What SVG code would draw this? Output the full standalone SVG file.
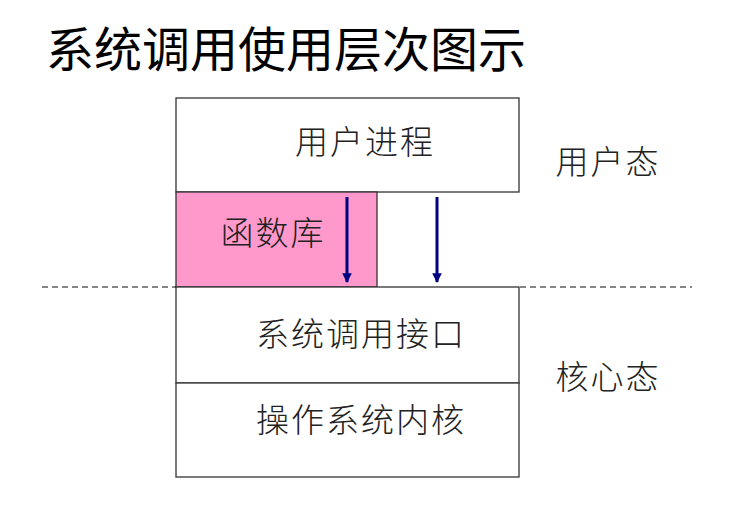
<svg xmlns="http://www.w3.org/2000/svg" width="755" height="516" viewBox="0 0 755 516">
<defs>
<style>
.box{fill:#fff;stroke:#333;stroke-width:1.3}
.lib{fill:#ff99cc;stroke:#333;stroke-width:1.3}
.lbl{font-family:"Noto Sans CJK SC","Noto Sans",sans-serif;font-size:33px;letter-spacing:2px;fill:#222;font-weight:300;text-anchor:middle}
.title{font-family:"Noto Sans CJK SC","Noto Sans",sans-serif;font-size:48px;fill:#000}
.dash{stroke:#111;stroke-width:1.2;stroke-dasharray:6 4;fill:none}
.arr{stroke:#000080;stroke-width:3;fill:none;marker-end:url(#ah)}
</style>
<marker id="ah" viewBox="0 0 10 10" refX="9" refY="5" markerWidth="3.2" markerHeight="3.2" orient="auto" markerUnits="strokeWidth">
<path d="M0,0 L10,5 L0,10 z" fill="#000080"/>
</marker>
</defs>
<rect width="755" height="516" fill="#fff"/>
<text class="title" x="46" y="67">系统调用使用层次图示</text>
<g id="user-process">
<rect class="box" x="176" y="98" width="343" height="94"/>
<text class="lbl" x="365" y="154">用户进程</text>
</g>
<g id="library">
<rect class="lib" x="176" y="192" width="201" height="95"/>
<text class="lbl" x="273" y="245">函数库</text>
</g>
<g id="syscall-interface">
<rect class="box" x="176" y="287" width="343" height="96"/>
<text class="lbl" x="361" y="346">系统调用接口</text>
</g>
<g id="kernel">
<rect class="box" x="176" y="383" width="343" height="94"/>
<text class="lbl" x="361" y="432">操作系统内核</text>
</g>
<g id="user-mode">
<text class="lbl" x="608" y="174">用户态</text>
</g>
<g id="kernel-mode">
<text class="lbl" x="608" y="389">核心态</text>
</g>
<g id="connectors">
<line class="dash" x1="42" y1="287" x2="176" y2="287"/>
<line class="dash" x1="520" y1="287" x2="692" y2="287"/>
<line class="arr" x1="347" y1="197" x2="347" y2="282"/>
<line class="arr" x1="437" y1="197" x2="437" y2="282"/>
</g>
</svg>
